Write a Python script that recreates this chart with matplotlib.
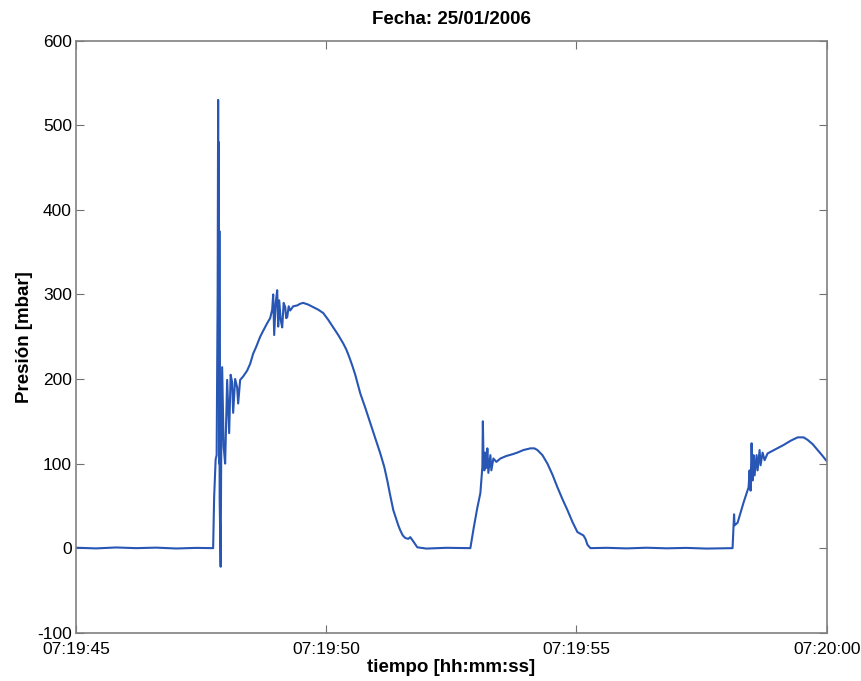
import matplotlib
matplotlib.use("Agg")
from matplotlib import pyplot as plt

# seconds after 07:19:45 and pressure in mbar
t_base1 = [0.0, 0.4, 0.8, 1.2, 1.6, 2.0, 2.4, 2.74]
p_base1 = [0.5, -0.3, 0.8, 0.0, 0.6, -0.4, 0.3, 0.0]

t_pulse1 = [2.76, 2.79, 2.81, 2.83, 2.84, 2.85, 2.855, 2.86, 2.865, 2.87, 2.89,
            2.90, 2.92, 2.95, 2.98, 3.02, 3.06, 3.09, 3.12, 3.14, 3.18, 3.22,
            3.24, 3.28, 3.34, 3.42, 3.48, 3.54, 3.60, 3.68, 3.74, 3.82, 3.88,
            3.92, 3.94, 3.96, 3.99, 4.02, 4.04, 4.06, 4.09, 4.12, 4.15, 4.18,
            4.20, 4.22, 4.25, 4.28, 4.34, 4.42, 4.48, 4.54, 4.64, 4.74, 4.84,
            4.94, 5.04, 5.14, 5.24, 5.34, 5.40, 5.46, 5.52, 5.58, 5.63, 5.68,
            5.78, 5.88, 5.98, 6.08, 6.16, 6.22, 6.28, 6.34, 6.40, 6.44, 6.48,
            6.53, 6.58, 6.64, 6.68, 6.74, 6.82]
p_pulse1 = [60, 105, 110, 300, 530, 200, 480, 100, 375, 60, -22,
            100, 214, 120, 100, 199, 136, 205, 196, 160, 200, 190,
            171, 199, 203, 210, 218, 230, 238, 250, 257, 266, 272,
            282, 300, 252, 290, 305, 262, 293, 270, 261, 290, 285,
            272, 273, 286, 281, 286, 287, 289, 290, 288, 285, 282,
            278, 270, 261, 252, 242, 235, 226, 216, 205, 194, 183,
            166, 148, 130, 112, 96, 80, 62, 45, 34, 27, 21,
            15, 12, 11, 13, 8, 1]

t_base2 = [7.0, 7.4, 7.86]
p_base2 = [-0.5, 0.4, 0.0]

t_pulse2 = [7.88, 7.95, 8.02, 8.08, 8.12, 8.13, 8.14, 8.16, 8.18, 8.20, 8.22,
            8.24, 8.28, 8.30, 8.34, 8.40, 8.48, 8.60, 8.72, 8.82, 8.94, 9.08,
            9.16, 9.22, 9.32, 9.42, 9.52, 9.62, 9.72, 9.82, 9.92, 10.02, 10.08,
            10.14, 10.18, 10.22, 10.28]
p_pulse2 = [0, 25, 48, 65, 96, 150, 116, 92, 113, 95, 118,
            89, 110, 92, 106, 102, 106, 109, 111, 113, 116, 118,
            118, 116, 110, 100, 87, 72, 58, 45, 31, 19, 17,
            15, 11, 4, 0]

t_base3 = [10.6, 11.0, 11.4, 11.8, 12.2, 12.6, 13.1]
p_base3 = [0.4, -0.3, 0.5, -0.2, 0.3, -0.5, 0.0]

t_pulse3 = [13.12, 13.14, 13.15, 13.16, 13.22, 13.28, 13.34, 13.44, 13.46, 13.48,
            13.50, 13.52, 13.54, 13.56, 13.60, 13.62, 13.66, 13.68, 13.72, 13.76,
            13.82, 13.98, 14.14, 14.28, 14.42, 14.54, 14.62, 14.72, 14.82, 14.92,
            15.0]
p_pulse3 = [0, 25, 40, 27, 30, 42, 54, 72, 92, 68,
            124, 80, 110, 86, 110, 92, 116, 98, 113, 104,
            112, 117, 122, 127, 131, 131, 128, 123, 116, 109,
            103]

t = t_base1 + t_pulse1 + t_base2 + t_pulse2 + t_base3 + t_pulse3
p = p_base1 + p_pulse1 + p_base2 + p_pulse2 + p_base3 + p_pulse3

x_ticks = [0, 5, 10, 15]
x_labels = ["07:19:45", "07:19:50", "07:19:55", "07:20:00"]
y_ticks = [-100, 0, 100, 200, 300, 400, 500, 600]

plt.rcParams["font.family"] = ["Liberation Sans", "DejaVu Sans"]
plt.rcParams["axes.unicode_minus"] = False

fig = plt.figure(figsize=(8.61, 6.81), dpi=100)
ax = fig.add_axes([0.0883, 0.0709, 0.8718, 0.8693])
ax.plot(t, p, color="#2856b4", linewidth=1.5)

ax.set_xlim(0, 15)
ax.set_ylim(-100, 600)
ax.set_xticks(x_ticks)
ax.set_xticklabels(x_labels)
ax.set_yticks(y_ticks)
ax.tick_params(direction="in", top=True, right=True, length=6,
               color="#707070", labelsize=12.5)
ax.tick_params(axis="x", pad=7)
ax.tick_params(axis="y", pad=3)
for s in ax.spines.values():
    s.set_color("#808080")
    s.set_linewidth(1.2)

ax.set_title("Fecha: 25/01/2006", fontsize=13.5, fontweight="bold", pad=12)
ax.set_xlabel("tiempo [hh:mm:ss]", fontsize=13.5, fontweight="bold", labelpad=1)
ax.set_ylabel("Presión [mbar]", fontsize=13.5, fontweight="bold", labelpad=3)

fig.savefig("out.png", dpi=100)
